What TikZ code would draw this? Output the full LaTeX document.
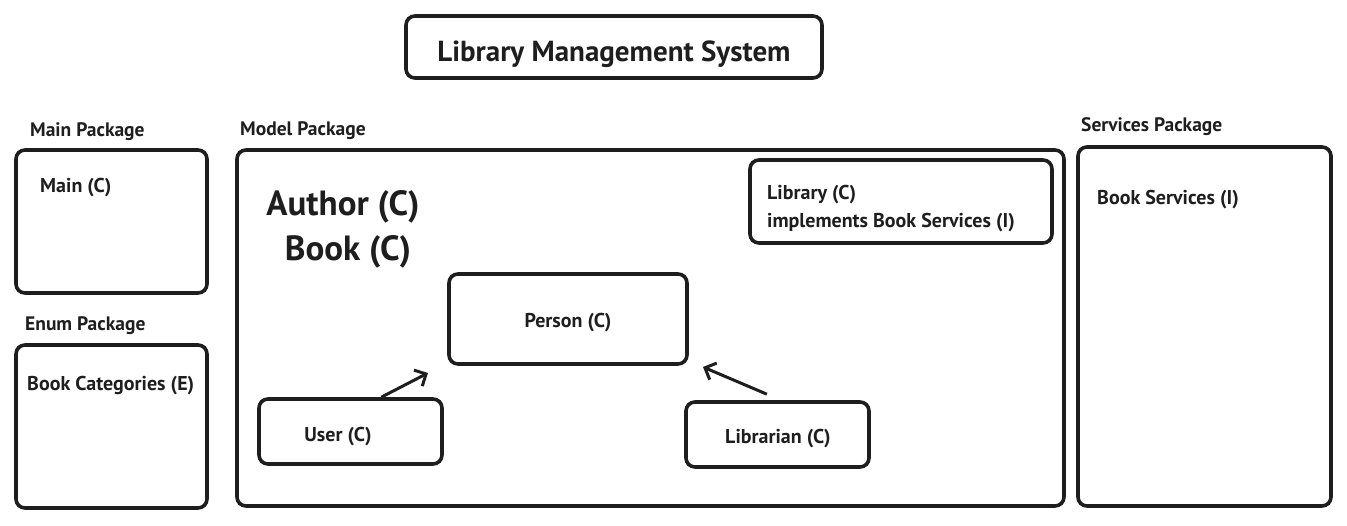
\documentclass[tikz,border=0pt]{standalone}
\usepackage{fontspec}
\setmainfont{PT Sans}
\usetikzlibrary{arrows.meta,calc}
\definecolor{ink}{HTML}{1E1E1E}
\tikzset{
  box/.style={draw=ink, line width=3.6pt, rounded corners=9pt, inner sep=0pt},
  lbl/.style={inner sep=0pt, anchor=base west, text=ink, font=\bfseries\fontsize{19.5}{22}\selectfont},
  txt/.style={inner sep=0pt, anchor=base west, text=ink, font=\bfseries\fontsize{20}{24}\selectfont},
  ctxt/.style={inner sep=0pt, anchor=base, text=ink, font=\bfseries\fontsize{20}{24}\selectfont},
  big/.style={inner sep=0pt, anchor=base, text=ink, font=\bfseries\fontsize{35}{40}\selectfont},
  arr/.style={line width=3pt, draw=ink, -{Straight Barb[length=9pt,width=18pt,line width=3pt]}},
}
\newcommand{\bx}[5]{\node[box, minimum width=#4-#2, minimum height=#5-#3] (#1) at ({(#2+#4)/2},{(#3+#5)/2}) {};}
\begin{document}
\begin{tikzpicture}[x=1pt,y=-1pt]
\useasboundingbox (0,0) rectangle (1347,526);
% boxes
\bx{title}{406}{16}{822}{78}
\bx{main}{16}{150}{207}{293}
\bx{enum}{16}{345}{207}{508}
\bx{model}{237}{150}{1064}{506}
\bx{person}{449}{274}{687}{364}
\bx{user}{259}{399}{442}{464}
\bx{librarian}{686}{402}{869}{467}
\bx{library}{750}{160}{1052}{243}
\bx{services}{1078}{147}{1331}{506}
% texts
\node[inner sep=0pt, anchor=base, text=ink, font=\bfseries\fontsize{29}{34}\selectfont] (ttitle) at (614,62) {Library Management System};
\node[lbl] (lmain) at (30,137) {Main Package};
\node[lbl] (lmodel) at (240,136) {Model Package};
\node[lbl] (lenum) at (25,331) {Enum Package};
\node[lbl] (lserv) at (1081,132) {Services Package};
\node[txt] (tmain) at (40,193) {Main (C)};
\node[txt] (tenum) at (27,391) {Book Categories (E)};
\node[txt] (tserv) at (1097,205) {Book Services (I)};
\node[big] (tauthor) at (343,216) {Author (C)};
\node[big] (tbook) at (348,261) {Book (C)};
\node[ctxt] (tperson) at (568,328) {Person (C)};
\node[ctxt] (tuser) at (338,442) {User (C)};
\node[ctxt] (tlibrarian) at (778,443) {Librarian (C)};
\node[txt] (tlib1) at (767,200) {Library (C)};
\node[txt] (tlib2) at (767,228) {implements Book Services (I)};
% arrows
\coordinate (c1) at (428,373);
\coordinate (c2) at (703,367);
\draw[arr] ($(user.north west)!0.665!(user.north east)$) -- (c1);
\draw[arr] ($(librarian.north west)!0.443!(librarian.north east)+(0,-6)$) -- (c2);
\end{tikzpicture}
\end{document}
